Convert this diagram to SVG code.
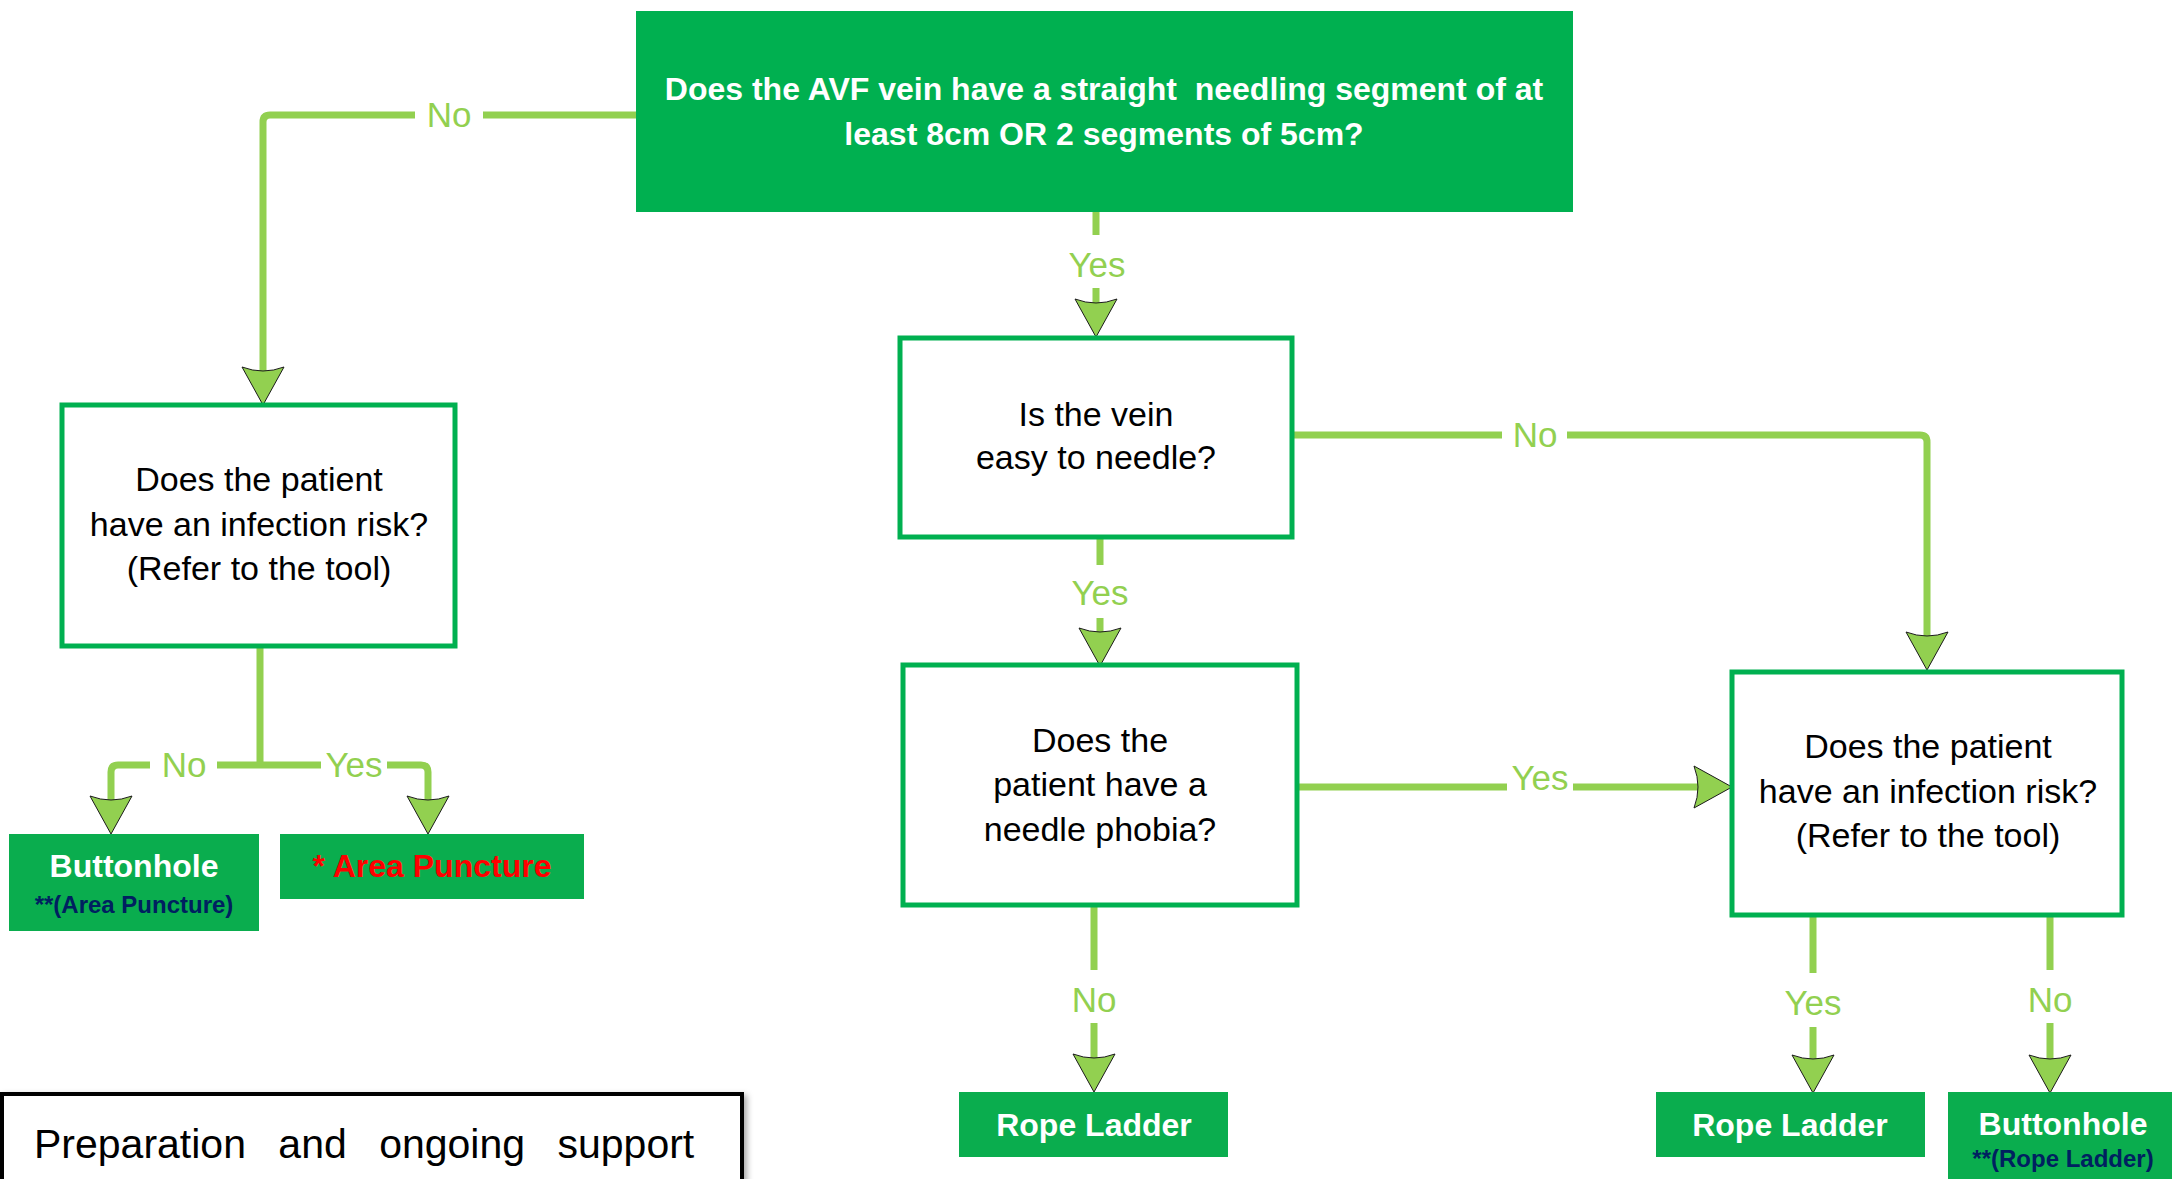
<svg xmlns="http://www.w3.org/2000/svg" xmlns:xlink="http://www.w3.org/1999/xlink" width="2172" height="1179" viewBox="0 0 2172 1179">
<style>
.q{fill:#00B050}
.r{fill:#0AAD4E}
.bx{fill:#FFFFFF;stroke:#00B050;stroke-width:5}
.t{font-family:"Liberation Sans",Arial,sans-serif;font-size:34px;fill:#000000;text-anchor:middle}
.tw{font-family:"Liberation Sans",Arial,sans-serif;font-size:32px;font-weight:bold;fill:#FFFFFF;text-anchor:middle}
.ts{font-family:"Liberation Sans",Arial,sans-serif;font-size:24px;font-weight:bold;fill:#002060;text-anchor:middle}
.tr{font-family:"Liberation Sans",Arial,sans-serif;font-size:32px;font-weight:bold;fill:#FF0000;text-anchor:middle}
.lb{font-family:"Liberation Sans",Arial,sans-serif;font-size:35px;fill:#92D050;text-anchor:middle}
.ln{fill:none;stroke:#92D050;stroke-width:7;stroke-linejoin:round}
.ah{fill:#92D050;stroke:#1a1a1a;stroke-width:1}
</style>
<defs>
<path id="ah" class="ah" d="M0,0 L-21,-38 Q0,-30 21,-38 Z"/>
<filter id="sh" x="-5%" y="-10%" width="115%" height="130%">
<feDropShadow dx="3" dy="3" stdDeviation="3" flood-color="#000000" flood-opacity="0.35"/>
</filter>
</defs>

<g id="connectors">
<path class="ln" d="M636,115 H483 M415,115 H270 Q263,115 263,122 V374"/>
<text class="lb" x="449" y="127">No</text>
<use xlink:href="#ah" href="#ah" transform="translate(263,405)"/>

<path class="ln" d="M260,646 V765 M260,765 H217 M150,765 H118 Q111,765 111,772 V802 M260,765 H321 M387,765 H421 Q428,765 428,772 V802"/>
<text class="lb" x="184" y="777">No</text>
<text class="lb" x="354" y="777">Yes</text>
<use xlink:href="#ah" href="#ah" transform="translate(111,834)"/>
<use xlink:href="#ah" href="#ah" transform="translate(428,834)"/>

<path class="ln" d="M1096,212 V235 M1096,288 V305"/>
<text class="lb" x="1097" y="277">Yes</text>
<use xlink:href="#ah" href="#ah" transform="translate(1096,337)"/>

<path class="ln" d="M1292,435 H1502 M1567,435 H1920 Q1927,435 1927,442 V640"/>
<text class="lb" x="1535" y="447">No</text>
<use xlink:href="#ah" href="#ah" transform="translate(1927,670)"/>

<path class="ln" d="M1100,537 V565 M1100,618 V636"/>
<text class="lb" x="1100" y="605">Yes</text>
<use xlink:href="#ah" href="#ah" transform="translate(1100,666)"/>

<path class="ln" d="M1297,787 H1507 M1573,787 H1702"/>
<text class="lb" x="1540" y="790">Yes</text>
<use xlink:href="#ah" href="#ah" transform="translate(1732,787) rotate(-90)"/>

<path class="ln" d="M1094,905 V970 M1094,1023 V1062"/>
<text class="lb" x="1094" y="1012">No</text>
<use xlink:href="#ah" href="#ah" transform="translate(1094,1092)"/>

<path class="ln" d="M1813,915 V973 M1813,1027 V1062"/>
<text class="lb" x="1813" y="1015">Yes</text>
<use xlink:href="#ah" href="#ah" transform="translate(1813,1093)"/>

<path class="ln" d="M2050,915 V970 M2050,1023 V1062"/>
<text class="lb" x="2050" y="1012">No</text>
<use xlink:href="#ah" href="#ah" transform="translate(2050,1093)"/>
</g>

<g id="n-avf">
<rect class="q" x="636" y="11" width="937" height="201"/>
<text class="tw" x="1104" y="100" style="white-space:pre" xml:space="preserve">Does the AVF vein have a straight  needling segment of at</text>
<text class="tw" x="1104" y="145">least 8cm OR 2 segments of 5cm?</text>
</g>

<g id="n-infection-left">
<rect class="bx" x="62" y="405" width="393" height="241"/>
<text class="t" x="259" y="491">Does the patient</text>
<text class="t" x="259" y="536">have an infection risk?</text>
<text class="t" x="259" y="580">(Refer to the tool)</text>
</g>

<g id="n-buttonhole-left">
<rect class="r" x="9" y="834" width="250" height="97"/>
<text class="tw" x="134" y="877">Buttonhole</text>
<text class="ts" x="134" y="913">**(Area Puncture)</text>
</g>

<g id="n-area-puncture">
<rect class="r" x="280" y="834" width="304" height="65"/>
<text class="tr" x="432" y="877">* Area Puncture</text>
</g>

<g id="n-easy">
<rect class="bx" x="900" y="338" width="392" height="199"/>
<text class="t" x="1096" y="426">Is the vein</text>
<text class="t" x="1096" y="469">easy to needle?</text>
</g>

<g id="n-phobia">
<rect class="bx" x="903" y="665" width="394" height="240"/>
<text class="t" x="1100" y="752">Does the</text>
<text class="t" x="1100" y="796">patient have a</text>
<text class="t" x="1100" y="841">needle phobia?</text>
</g>

<g id="n-infection-right">
<rect class="bx" x="1732" y="672" width="390" height="243"/>
<text class="t" x="1928" y="758">Does the patient</text>
<text class="t" x="1928" y="803">have an infection risk?</text>
<text class="t" x="1928" y="847">(Refer to the tool)</text>
</g>

<g id="n-rope-ladder-1">
<rect class="r" x="959" y="1092" width="269" height="65"/>
<text class="tw" x="1094" y="1136">Rope Ladder</text>
</g>

<g id="n-rope-ladder-2">
<rect class="r" x="1656" y="1092" width="269" height="65"/>
<text class="tw" x="1790" y="1136">Rope Ladder</text>
</g>

<g id="n-buttonhole-right">
<rect class="r" x="1948" y="1092" width="230" height="95"/>
<text class="tw" x="2063" y="1135">Buttonhole</text>
<text class="ts" x="2063" y="1167">**(Rope Ladder)</text>
</g>

<g id="n-preparation">
<rect x="2" y="1094" width="740" height="100" fill="#FFFFFF" stroke="#000000" stroke-width="4" filter="url(#sh)"/>
<text x="34" y="1158" font-family="'Liberation Sans',Arial,sans-serif" font-size="41" fill="#000000" word-spacing="21">Preparation and ongoing support</text>
</g>
</svg>
